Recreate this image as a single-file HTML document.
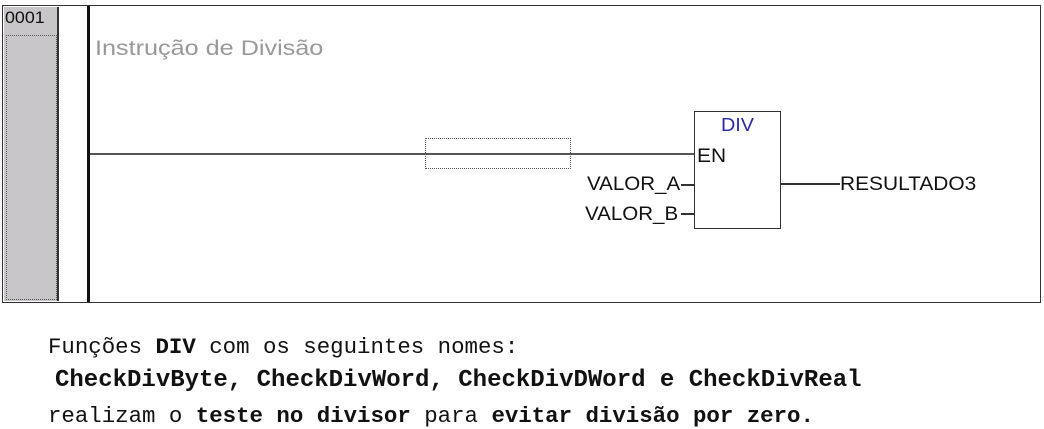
<!DOCTYPE html>
<html><head><meta charset="utf-8"><style>
body{margin:0;width:1044px;height:429px;background:#fff;position:relative;overflow:hidden;font-family:"Liberation Sans",sans-serif}
.a{position:absolute}
.s{position:absolute;transform-origin:0 0;white-space:pre}
.t{position:absolute;font-family:"Liberation Mono",monospace;white-space:pre;color:#111}
</style></head><body>
<div class="a" style="left:2px;top:5px;width:1037px;height:296px;border:1px solid #333"></div>
<div class="a" style="left:4px;top:7px;width:53px;height:294px;background:#c8c6c8;border-right:2px solid #333"></div>
<div class="a" style="left:6px;top:35px;width:49px;height:263px;border:1px dotted #555"></div>
<div class="s" style="left:5px;top:8px;font-size:17px;color:#111;transform:scaleX(1.05)">0001</div>
<div class="a" style="left:87px;top:6px;width:3px;height:296px;background:#111"></div>
<div class="s" style="left:95px;top:37px;font-size:21px;color:#999;transform:scaleX(1.2)">Instrução de Divisão</div>
<div class="a" style="left:90px;top:153px;width:604px;height:2px;background:#555"></div>
<div class="a" style="left:425px;top:138px;width:144px;height:29px;border:1px dotted #555"></div>
<div class="a" style="left:694px;top:111px;width:85px;height:116px;border:1px solid #333"></div>
<div class="s" style="left:721px;top:115px;font-size:18px;color:#2a2aa8;transform:scaleX(1.1)">DIV</div>
<div class="s" style="left:697px;top:146px;font-size:19px;color:#111;transform:scaleX(1.1)">EN</div>
<div class="s" style="left:587px;top:174px;font-size:19px;color:#111;transform:scaleX(1.08)">VALOR_A</div>
<div class="s" style="left:585px;top:204px;font-size:19px;color:#111;transform:scaleX(1.08)">VALOR_B</div>
<div class="a" style="left:681px;top:184px;width:13px;height:2px;background:#333"></div>
<div class="a" style="left:681px;top:213px;width:13px;height:2px;background:#333"></div>
<div class="a" style="left:780px;top:183px;width:60px;height:2px;background:#333"></div>
<div class="s" style="left:840px;top:174px;font-size:19px;color:#111;transform:scaleX(1.1)">RESULTADO3</div>
<div class="t" style="left:48px;top:334px;font-size:22.4px">Funções <b>DIV</b> com os seguintes nomes:</div>
<div class="t" style="left:55px;top:367px;font-size:24px;font-weight:bold">CheckDivByte, CheckDivWord, CheckDivDWord e CheckDivReal</div>
<div class="t" style="left:48px;top:403px;font-size:22.4px">realizam o <b>teste no divisor</b> para <b>evitar divisão por zero.</b></div>
</body></html>
